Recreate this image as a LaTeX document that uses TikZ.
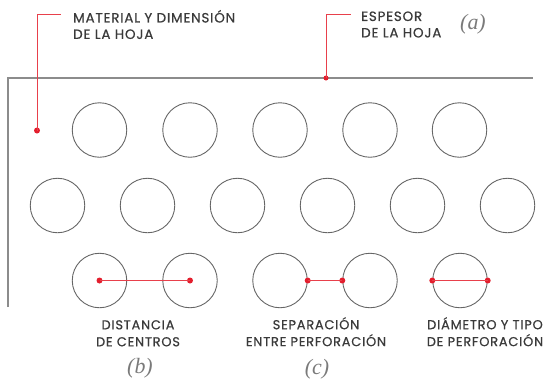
\documentclass[tikz,border=0pt]{standalone}
\usepackage{fontspec}
\setsansfont{Poppins}[FakeBold=0.6,LetterSpace=6]
\newfontfamily\tagfont{Liberation Serif}
\definecolor{holegray}{HTML}{666666}
\definecolor{sheetgray}{HTML}{8C8C8C}
\definecolor{txtgray}{HTML}{3A3A3A}
\definecolor{taggray}{HTML}{7A7A7A}
\definecolor{accent}{HTML}{E31E2D}
\definecolor{accentline}{HTML}{E8404B}
\begin{document}
\begin{tikzpicture}[x=1bp,y=-1bp,
  hole/.style={circle,draw=holegray,line width=0.9bp,minimum size=54.5bp,inner sep=0pt},
  reddot/.style={circle,fill=accent,minimum size=6bp,inner sep=0pt},
  redline/.style={draw=accentline,line width=1bp},
  sheetline/.style={draw=sheetgray,line width=1.4bp},
  lbl/.style={font=\sffamily\fontsize{13.5}{16.5}\selectfont,text=txtgray,align=left,anchor=west,inner sep=0pt},
  clbl/.style={font=\sffamily\fontsize{13}{17}\selectfont,text=txtgray,align=center,anchor=north,inner sep=0pt},
  tag/.style={font=\tagfont\itshape\fontsize{22}{22}\selectfont,text=taggray,inner sep=0pt}]
\useasboundingbox (0,0) rectangle (547,385);
% sheet
\coordinate (sheetBL) at (8,307);
\coordinate (sheetTL) at (8,78);
\coordinate (sheetTR) at (533,78);
\draw[sheetline] (sheetBL) -- (sheetTL) -- (sheetTR);
% row 1
\node[hole] (r1a) at (99.5,130) {};
\node[hole] (r1b) at (190,130) {};
\node[hole] (r1c) at (280,130) {};
\node[hole] (r1d) at (370,130) {};
\node[hole] (r1e) at (459.5,130) {};
% row 2
\node[hole] (r2a) at (57.5,205.5) {};
\node[hole] (r2b) at (147.5,205.5) {};
\node[hole] (r2c) at (237.5,205.5) {};
\node[hole] (r2d) at (327.5,205.5) {};
\node[hole] (r2e) at (417.5,205.5) {};
\node[hole] (r2f) at (507.5,205.5) {};
% row 3
\node[hole] (r3a) at (99.5,280.5) {};
\node[hole] (r3b) at (190,280.5) {};
\node[hole] (r3c) at (280,280.5) {};
\node[hole] (r3d) at (370,280.5) {};
\node[hole] (r3e) at (460,280.5) {};
% distance between centres
\node[reddot] (dA) at (r3a.center) {};
\node[reddot] (dB) at (r3b.center) {};
\draw[redline] (dA.center) -- (dB.center);
% separation
\node[reddot] (sA) at (r3c.east) {};
\node[reddot] (sB) at (r3d.west) {};
\draw[redline] (sA.center) -- (sB.center);
% diameter
\node[reddot] (mA) at (r3e.west) {};
\node[reddot] (mB) at (r3e.east) {};
\draw[redline] (mA.center) -- (mB.center);
% material callout
\node[reddot] (matdot) at (37,130.5) {};
\coordinate (matcorner) at (37,14);
\coordinate (matend) at (61,14);
\draw[redline] (matdot.center) -- (matcorner) -- (matend);
\node[lbl] (mattxt) at (73,24.5) {MATERIAL Y DIMENSIÓN\\DE LA HOJA};
% thickness callout
\node[reddot,minimum size=5bp] (espdot) at (326,78) {};
\coordinate (espcorner) at (326,14);
\coordinate (espend) at (351,14);
\draw[redline] (espdot.center) -- (espcorner) -- (espend);
\node[lbl] (esptxt) at (361,24.5) {ESPESOR\\DE LA HOJA};
% tags
\node[tag] (taga) at (473,24) {(a)};
\node[tag] (tagb) at (140,368) {(b)};
\node[tag] (tagc) at (317,369) {(c)};
% bottom labels
\node[clbl] (lblb) at (138,320) {DISTANCIA\\DE CENTROS};
\node[clbl] (lblc) at (316,317) {SEPARACIÓN\\ENTRE PERFORACIÓN};
\node[clbl] (lbld) at (485,317) {DIÁMETRO Y TIPO\\DE PERFORACIÓN};
\end{tikzpicture}
\end{document}
